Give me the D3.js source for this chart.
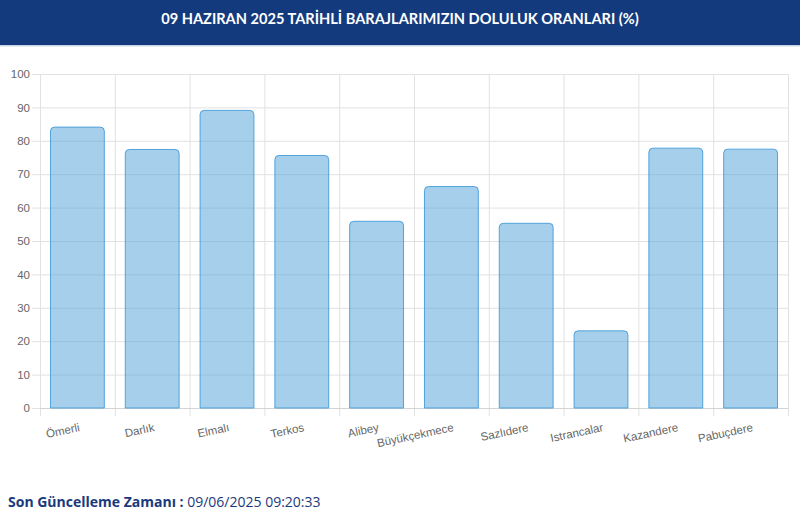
<!DOCTYPE html>
<html>
<head>
<meta charset="utf-8">
<script src="https://cdn.jsdelivr.net/npm/d3@7"></script>
<style>
html,body{margin:0;padding:0;background:#fff;}
svg{display:block;}
</style>
</head>
<body>
<svg id="chart" width="800" height="524"></svg>
<script>
const titleText = "09 HAZIRAN 2025 TARİHLİ BARAJLARIMIZIN DOLULUK ORANLARI (%)";
const categories = ["Ömerli","Darlık","Elmalı","Terkos","Alibey","Büyükçekmece","Sazlıdere","Istrancalar","Kazandere","Pabuçdere"];
const values = [84.1, 77.4, 89.1, 75.6, 55.9, 66.3, 55.3, 23.1, 77.8, 77.5];
const yTicks = [0,10,20,30,40,50,60,70,80,90,100];
const footerLabel = "Son Güncelleme Zamanı :";
const footerValue = "09/06/2025 09:20:33";

const svg = d3.select("#chart");
const W = 800, H = 524;
const m = {left:40, right:12, top:74, bottom:116};
const plotW = W - m.left - m.right, plotH = H - m.top - m.bottom;

// header
svg.append("rect").attr("x",0).attr("y",0).attr("width",W).attr("height",45).attr("fill","#143a7e");
svg.append("rect").attr("x",0).attr("y",45).attr("width",W).attr("height",1.5).attr("fill","#c9d4e6");
svg.append("text").attr("x",400).attr("y",23.5).attr("text-anchor","middle")
  .attr("font-family","Lato, 'Open Sans', sans-serif").attr("font-weight",700).attr("font-size",14.6)
  .attr("fill","#ffffff").text(titleText);

const x = d3.scaleBand().domain(categories).range([m.left, m.left+plotW]).paddingInner(0).paddingOuter(0);
const y = d3.scaleLinear().domain([0,100]).range([m.top+plotH, m.top]);

const g = svg.append("g");
// horizontal grid
const yAxis = d3.axisLeft(y).tickValues(yTicks).tickSize(-plotW).tickPadding(10);
const ya = g.append("g").attr("transform",`translate(${m.left},0)`).call(yAxis);
ya.select(".domain").remove();
ya.selectAll(".tick line").attr("stroke","#e2e2e2").attr("x1",-8);
ya.selectAll(".tick text").attr("fill","#666").attr("font-family","'Liberation Sans', Arial, sans-serif").attr("font-size",11.5);

// vertical grid lines at category boundaries
const bounds = categories.map(c => x(c)).concat([m.left+plotW]);
g.selectAll(".vgrid").data(bounds).join("line").attr("class","vgrid")
  .attr("x1",d=>d+0.5).attr("x2",d=>d+0.5).attr("y1",m.top).attr("y2",m.top+plotH+8)
  .attr("stroke","#e2e2e2").attr("stroke-width",1);

// axis bottom line
g.append("line").attr("x1",m.left).attr("x2",m.left+plotW).attr("y1",y(0)+0.5).attr("y2",y(0)+0.5).attr("stroke","#d4d4d4");

// bars
const bw = x.bandwidth()*0.72;
const r = 4;
function barPath(cx, top, bottom, w){
  const x0 = cx - w/2, x1 = cx + w/2;
  const rr = Math.min(r, (bottom-top));
  return `M${x0},${bottom} L${x0},${top+rr} Q${x0},${top} ${x0+rr},${top} L${x1-rr},${top} Q${x1},${top} ${x1},${top+rr} L${x1},${bottom}`;
}
g.selectAll(".bar").data(categories).join("path").attr("class","bar")
  .attr("d",(c,i)=>barPath(x(c)+x.bandwidth()/2, y(values[i]), y(0), bw) + " Z")
  .attr("fill","rgba(75,160,215,0.5)")
  .attr("stroke","rgba(60,150,215,0.85)").attr("stroke-width",1);

// x labels rotated
g.selectAll(".xl").data(categories).join("text").attr("class","xl")
  .attr("transform",c=>`translate(${x(c)+x.bandwidth()/2+2},${y(0)+19}) rotate(-12)`)
  .attr("text-anchor","end").attr("dy","0.35em")
  .attr("fill","#666").attr("font-family","'Liberation Sans', Arial, sans-serif").attr("font-size",11.5)
  .text(c=>c);

// footer
const ft = svg.append("text").attr("x",8).attr("y",507).attr("font-family","'Open Sans', sans-serif").attr("font-size",14).attr("fill","#1a3a7c");
ft.append("tspan").attr("font-weight",700).text(footerLabel);
ft.append("tspan").attr("font-weight",400).text(" " + footerValue);
</script>
</body>
</html>
